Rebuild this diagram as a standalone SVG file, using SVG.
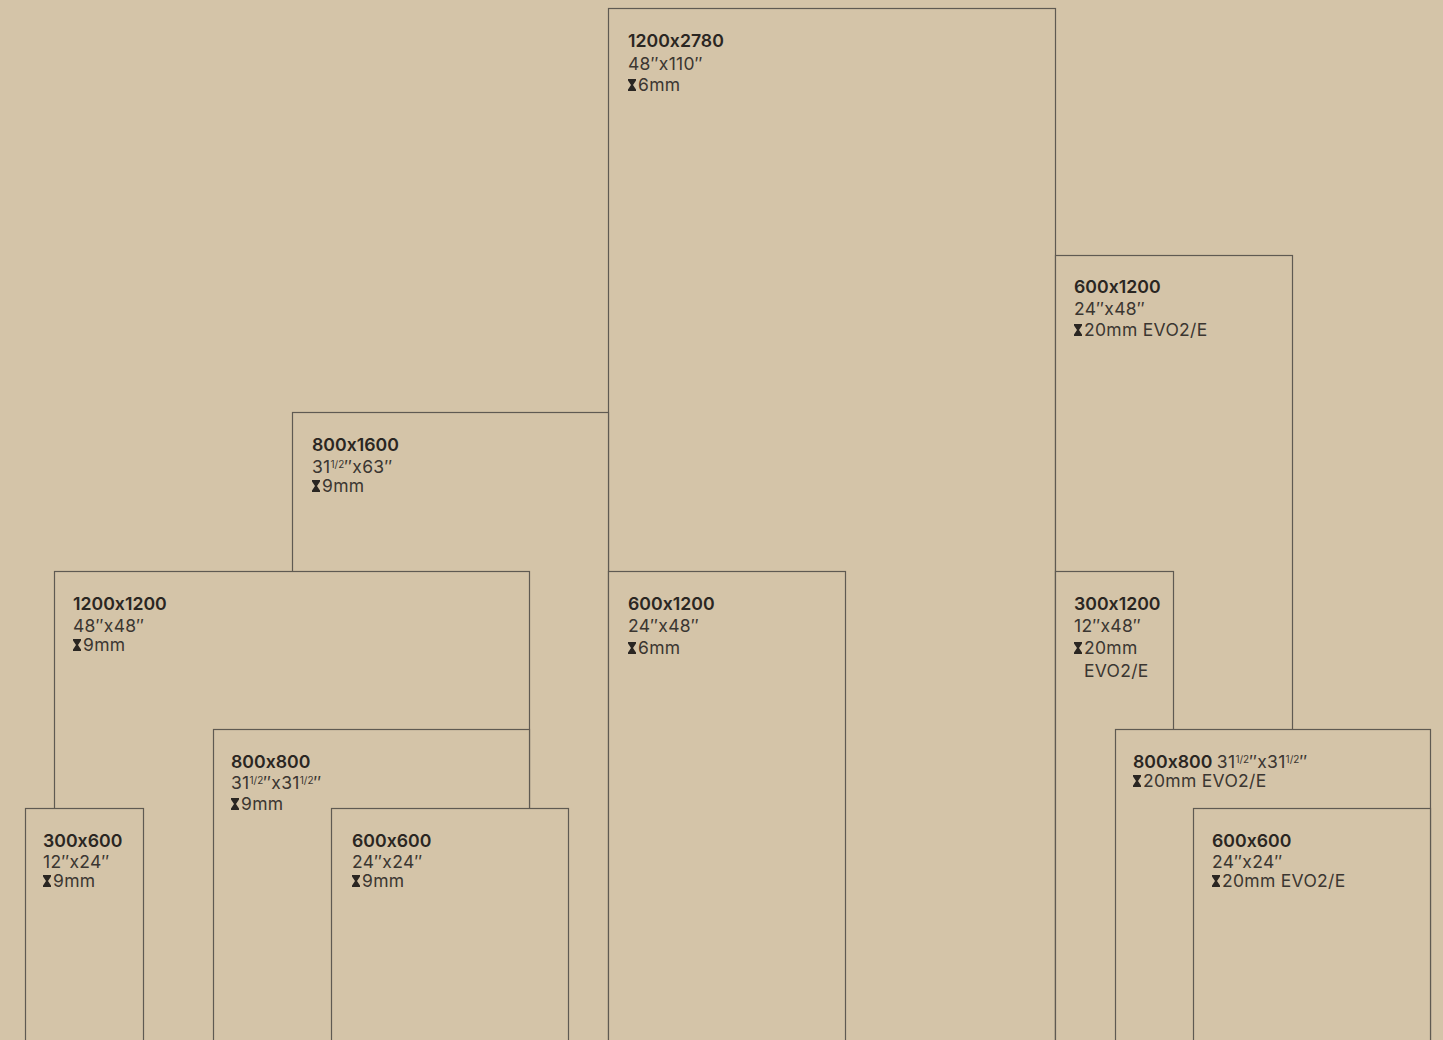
<svg xmlns="http://www.w3.org/2000/svg" width="1443" height="1040" viewBox="0 0 1443 1040">
<style>
.bg{fill:#d4c4a8}
.box{fill:#d4c4a8;stroke:#5f5a52;stroke-width:1.2}
.t{font-family:Inter,"Noto Sans",sans-serif;font-weight:600;font-size:17.7px;fill:#2a2622;font-feature-settings:"calt" 0}
.s{font-family:Inter,"Noto Sans",sans-serif;font-weight:400;font-size:17.5px;letter-spacing:0.3px;fill:#3b3631;font-feature-settings:"calt" 0}
.sup{font-size:10px;letter-spacing:0}
.hg{fill:#2a2622}
</style>
<defs>
<symbol id="hour" viewBox="0 0 8 12" width="8" height="12">
<path d="M0,0 H8 V1.6 L5,6 L8,10.4 V12 H0 V10.4 L3,6 L0,1.6 Z"/>
</symbol>
</defs>
<rect class="bg" x="0" y="0" width="1443" height="1040"/>

<g id="n-1200x2780">
<rect class="box" x="608.5" y="8.5" width="447" height="1040"/>
<text class="t" x="628" y="47">1200x2780</text>
<text class="s" x="628" y="70">48″x110″</text>
<use href="#hour" class="hg" x="628" y="79"/>
<text class="s" x="638" y="91">6mm</text>
</g>

<g id="n-600x1200-r">
<rect class="box" x="1055.5" y="255.5" width="237" height="800"/>
<text class="t" x="1074" y="293">600x1200</text>
<text class="s" x="1074" y="315">24″x48″</text>
<use href="#hour" class="hg" x="1074" y="324"/>
<text class="s" x="1084" y="336">20mm EVO2/E</text>
</g>

<g id="n-800x1600">
<rect class="box" x="292.5" y="412.5" width="316" height="700"/>
<text class="t" x="312" y="451">800x1600</text>
<text class="s" x="312" y="473">31<tspan class="sup" dy="-5">1/2</tspan><tspan dy="5">″x63″</tspan></text>
<use href="#hour" class="hg" x="312" y="480"/>
<text class="s" x="322" y="492">9mm</text>
</g>

<g id="n-1200x1200">
<rect class="box" x="54.5" y="571.5" width="475" height="500"/>
<text class="t" x="73" y="610">1200x1200</text>
<text class="s" x="73" y="632">48″x48″</text>
<use href="#hour" class="hg" x="73" y="639"/>
<text class="s" x="83" y="651">9mm</text>
</g>

<g id="n-600x1200-c">
<rect class="box" x="608.5" y="571.5" width="237" height="500"/>
<text class="t" x="628" y="610">600x1200</text>
<text class="s" x="628" y="632">24″x48″</text>
<use href="#hour" class="hg" x="628" y="642"/>
<text class="s" x="638" y="654">6mm</text>
</g>

<g id="n-300x1200">
<rect class="box" x="1055.5" y="571.5" width="118" height="500"/>
<text class="t" x="1074" y="610">300x1200</text>
<text class="s" x="1074" y="632">12″x48″</text>
<use href="#hour" class="hg" x="1074" y="642"/>
<text class="s" x="1084" y="654">20mm</text>
<text class="s" x="1084" y="677">EVO2/E</text>
</g>

<g id="n-800x800-l">
<rect class="box" x="213.5" y="729.5" width="316" height="400"/>
<text class="t" x="231" y="768">800x800</text>
<text class="s" x="231" y="789">31<tspan class="sup" dy="-5">1/2</tspan><tspan dy="5">″x31</tspan><tspan class="sup" dy="-5">1/2</tspan><tspan dy="5">″</tspan></text>
<use href="#hour" class="hg" x="231" y="798"/>
<text class="s" x="241" y="810">9mm</text>
</g>

<g id="n-300x600">
<rect class="box" x="25.5" y="808.5" width="118" height="300"/>
<text class="t" x="43" y="847">300x600</text>
<text class="s" x="43" y="868">12″x24″</text>
<use href="#hour" class="hg" x="43" y="875"/>
<text class="s" x="53" y="887">9mm</text>
</g>

<g id="n-600x600-l">
<rect class="box" x="331.5" y="808.5" width="237" height="300"/>
<text class="t" x="352" y="847">600x600</text>
<text class="s" x="352" y="868">24″x24″</text>
<use href="#hour" class="hg" x="352" y="875"/>
<text class="s" x="362" y="887">9mm</text>
</g>

<g id="n-800x800-r">
<rect class="box" x="1115.5" y="729.5" width="315" height="400"/>
<text class="t" x="1133" y="768">800x800 <tspan class="s">31</tspan><tspan class="s sup" dy="-5">1/2</tspan><tspan class="s" dy="5">″x31</tspan><tspan class="s sup" dy="-5">1/2</tspan><tspan class="s" dy="5">″</tspan></text>
<use href="#hour" class="hg" x="1133" y="775"/>
<text class="s" x="1143" y="787">20mm EVO2/E</text>
</g>

<g id="n-600x600-r">
<rect class="box" x="1193.5" y="808.5" width="237" height="300"/>
<text class="t" x="1212" y="847">600x600</text>
<text class="s" x="1212" y="868">24″x24″</text>
<use href="#hour" class="hg" x="1212" y="875"/>
<text class="s" x="1222" y="887">20mm EVO2/E</text>
</g>

<g id="connectors"></g>
</svg>
